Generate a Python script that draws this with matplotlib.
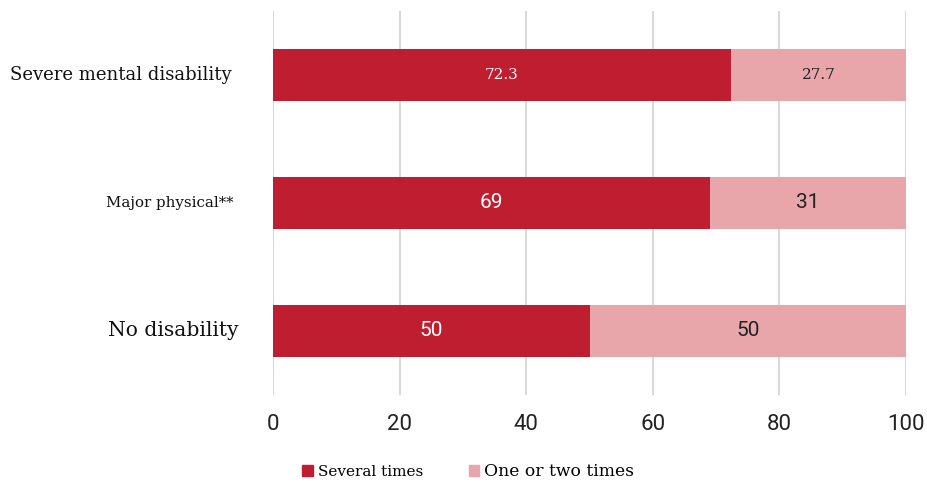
import matplotlib
matplotlib.use("Agg")
import matplotlib.pyplot as plt
from matplotlib.patches import Patch
from matplotlib.transforms import blended_transform_factory

categories = ["Severe mental disability", "Major physical**", "No disability"]
several_times = [72.3, 69, 50]
one_or_two = [27.7, 31, 50]
value_labels_a = ["72.3", "69", "50"]
value_labels_b = ["27.7", "31", "50"]
xticks = [0, 20, 40, 60, 80, 100]

DARK = "#BE1E2F"
LIGHT = "#E8A6AA"
SERIF = "DejaVu Serif"
SANS = "Roboto"

# the source mixes fonts and sizes per row, so keep that per row
label_sizes = [13, 10.8, 14.6]
label_right = [-0.065, -0.063, -0.055]   # axes fraction, right edge of each row label
value_fonts = [(SERIF, 11), (SANS, 15), (SANS, 15)]

fig = plt.figure(figsize=(9.27, 4.84), dpi=100)
ax = fig.add_axes([273 / 927, 89 / 484, 633 / 927, 384 / 484])

y = list(range(len(categories)))
ax.barh(y, several_times, height=0.4, color=DARK, zorder=3)
ax.barh(y, one_or_two, left=several_times, height=0.4, color=LIGHT, zorder=3)

for i in y:
    fam, size = value_fonts[i]
    ax.text(several_times[i] / 2, i, value_labels_a[i], ha="center", va="center",
            color="white", family=fam, fontsize=size, zorder=4)
    ax.text(several_times[i] + one_or_two[i] / 2, i, value_labels_b[i], ha="center",
            va="center", color="#222222", family=fam, fontsize=size, zorder=4)

trans = blended_transform_factory(ax.transAxes, ax.transData)
for i, cat in enumerate(categories):
    ax.text(label_right[i], i, cat, transform=trans, ha="right", va="center",
            family=SERIF, fontsize=label_sizes[i], color="#111111")

ax.set_xlim(0, 100)
ax.set_ylim(2.5, -0.5)
ax.set_xticks(xticks)
ax.set_xticklabels([str(t) for t in xticks], family=SANS, fontsize=16, color="#222222")
ax.set_yticks([])
ax.tick_params(axis="both", length=0)
ax.tick_params(axis="x", pad=14)
ax.xaxis.grid(True, color="#D9D9D9", linewidth=1.5, zorder=0)
for sp in ax.spines.values():
    sp.set_visible(False)

handles = [Patch(color=DARK, label="Several times"), Patch(color=LIGHT, label="One or two times")]
leg = fig.legend(handles=handles, loc="lower center", bbox_to_anchor=(0.505, -0.02), ncol=2,
                 frameon=False, handlelength=0.7, handleheight=0.7, handletextpad=0.3,
                 columnspacing=3.0, prop={"family": SERIF, "size": 11})
leg.get_texts()[1].set_fontsize(12.3)

fig.savefig("out.png", dpi=100)
